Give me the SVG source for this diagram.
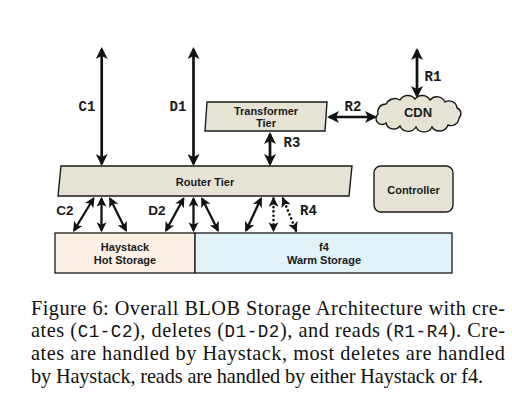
<svg xmlns="http://www.w3.org/2000/svg" width="512" height="410" viewBox="0 0 512 410">
<style>
.node{fill:#e6e3d4;stroke:#1a1a1a;stroke-width:1.4}
.nt{font-family:"Liberation Sans",Arial,sans-serif;font-weight:bold;font-size:11px;fill:#1a1a1a;text-anchor:middle}
.lab{font-family:"Liberation Mono","Courier New",monospace;font-weight:bold;font-size:14px;fill:#1a1a1a;text-anchor:middle}
.labs{font-family:"Liberation Sans",Arial,sans-serif;font-weight:bold;font-size:13.5px;fill:#1a1a1a;text-anchor:middle}
.big{stroke:#111;stroke-width:2.7;fill:none;marker-start:url(#ah);marker-end:url(#ah)}
.sm{stroke:#111;stroke-width:2.3;fill:none;marker-start:url(#as);marker-end:url(#as)}
.dot{stroke-dasharray:0.1 4.2;stroke-linecap:round;stroke-width:2.6}
.cap{font-family:"Liberation Serif","Times New Roman",serif;font-size:20.3px;fill:#111}
.mono{font-family:"Liberation Mono","Courier New",monospace;font-size:17.5px}
</style>
<defs>
<marker id="ah" viewBox="0 0 12 12" refX="10" refY="6" markerWidth="12" markerHeight="12" markerUnits="userSpaceOnUse" orient="auto-start-reverse"><path d="M0,0 L12,6 L0,12 L3,6 z" fill="#111"/></marker>
<marker id="as" viewBox="0 0 12 12" refX="10" refY="6" markerWidth="10" markerHeight="10" markerUnits="userSpaceOnUse" orient="auto-start-reverse"><path d="M0,0 L12,6 L0,12 L3,6 z" fill="#111"/></marker>
</defs>
<rect width="512" height="410" fill="#fff"/>

<g id="transformer">
<polygon class="node" points="207,102 327,102 325,131 205,131"/>
<text class="nt" x="266" y="115">Transformer</text>
<text class="nt" x="266" y="127">Tier</text>
</g>

<g id="cdn">
<path class="node" d="M378,114 A8,8 0 0 1 386,104 A10,10 0 0 1 400,100 A9,9 0 0 1 415,99 A9,9 0 0 1 430,100 A9,9 0 0 1 445,102 A8,8 0 0 1 457,108 A6,6 0 0 1 459,118 A8,8 0 0 1 448,125 A9,9 0 0 1 432,127 A9,9 0 0 1 416,127 A9,9 0 0 1 400,126 A8,8 0 0 1 386,123 A6,6 0 0 1 378,114 z"/>
<text class="nt" x="418" y="117" style="font-size:13px">CDN</text>
</g>

<g id="router">
<polygon class="node" points="61,166 352,166 349,196 58,196"/>
<text class="nt" x="205" y="186">Router Tier</text>
</g>

<g id="controller">
<rect class="node" x="374" y="166" width="79" height="46" rx="7"/>
<text class="nt" x="413.5" y="193.5">Controller</text>
</g>

<g id="haystack">
<rect x="55" y="233" width="140" height="40" fill="#fcefe4" stroke="#1a1a1a" stroke-width="1.3"/>
<text class="nt" x="125" y="251">Haystack</text>
<text class="nt" x="125" y="263.5">Hot Storage</text>
</g>

<g id="f4">
<rect x="195" y="233" width="257" height="40" fill="#e1f2f8" stroke="#1a1a1a" stroke-width="1.3"/>
<text class="nt" x="324" y="251">f4</text>
<text class="nt" x="324" y="263.5">Warm Storage</text>
</g>

<g id="connectors">
<line class="big" x1="101.7" y1="49" x2="101.7" y2="164"/>
<line class="big" x1="193.5" y1="49" x2="193.5" y2="164"/>
<line class="big" x1="270" y1="134" x2="270" y2="164"/>
<line class="big" x1="417" y1="50" x2="417" y2="96"/>
<line class="big" x1="329" y1="117" x2="375" y2="117"/>

<line class="sm" x1="93.5" y1="198.5" x2="74" y2="230.5"/>
<line class="sm" x1="101.5" y1="198.5" x2="101.5" y2="230.5"/>
<line class="sm" x1="110" y1="198.5" x2="126" y2="230.5"/>

<line class="sm" x1="183.5" y1="198.5" x2="166" y2="230.5"/>
<line class="sm" x1="193.5" y1="198.5" x2="193.5" y2="230.5"/>
<line class="sm" x1="202" y1="198.5" x2="218" y2="230.5"/>

<line class="sm" x1="261" y1="198.5" x2="246" y2="230.5"/>
<line class="sm dot" x1="273.5" y1="198.5" x2="273.5" y2="230.5"/>
<line class="sm dot" x1="283" y1="198.5" x2="296" y2="230.5"/>

<text class="lab" x="87" y="111">C1</text>
<text class="lab" x="178" y="111">D1</text>
<text class="lab" x="433" y="81">R1</text>
<text class="lab" x="353" y="111">R2</text>
<text class="lab" x="292" y="147">R3</text>
<text class="lab" x="308.5" y="215">R4</text>
<text class="labs" x="65" y="215">C2</text>
<text class="labs" x="157" y="215">D2</text>
</g>

<g id="caption">
<text class="cap" x="31" y="314.7" textLength="474" lengthAdjust="spacing">Figure 6: Overall BLOB Storage Architecture with cre-</text>
<text class="cap" x="31" y="337.4" textLength="474" lengthAdjust="spacing">ates (<tspan class="mono">C1-C2</tspan>), deletes (<tspan class="mono">D1-D2</tspan>), and reads (<tspan class="mono">R1-R4</tspan>). Cre-</text>
<text class="cap" x="31" y="360.1" textLength="474" lengthAdjust="spacing">ates are handled by Haystack, most deletes are handled</text>
<text class="cap" x="31" y="382.8" textLength="452" lengthAdjust="spacing">by Haystack, reads are handled by either Haystack or f4.</text>
</g>
</svg>
